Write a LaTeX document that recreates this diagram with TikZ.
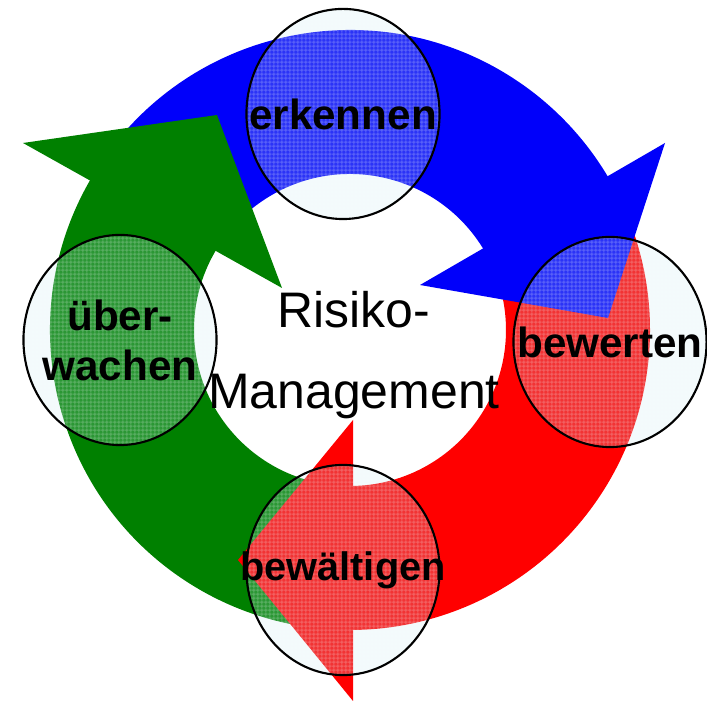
\documentclass[tikz,border=0pt]{standalone}
\usepackage{fontspec}
\setmainfont{Liberation Sans}
\usetikzlibrary{shapes.geometric,patterns}
\definecolor{rmblue}{RGB}{0,0,250}
\definecolor{rmgreen}{RGB}{0,128,0}
\definecolor{rmred}{RGB}{255,0,0}
\definecolor{glasscol}{RGB}{200,235,240}
\pgfdeclarepatternformonly{finegrid}{\pgfpointorigin}{\pgfpoint{1.2pt}{1.2pt}}{\pgfpoint{1.2pt}{1.2pt}}{
  \pgfsetlinewidth{0.35pt}
  \pgfpathmoveto{\pgfpoint{0pt}{0.6pt}}\pgfpathlineto{\pgfpoint{1.2pt}{0.6pt}}
  \pgfpathmoveto{\pgfpoint{0.6pt}{0pt}}\pgfpathlineto{\pgfpoint{0.6pt}{1.2pt}}
  \pgfusepath{stroke}}
\tikzset{
  glass/.style={ellipse,draw,line width=0.6pt,minimum width=1.93cm,minimum height=2.1cm,
    inner sep=0pt,fill=glasscol,fill opacity=0.22,
    preaction={pattern=finegrid,pattern color=white,fill opacity=0.25}},
  phase/.style={font=\fontsize{12}{14.2}\selectfont\bfseries,align=center,inner sep=0pt},
}

\begin{document}
\begin{tikzpicture}[x=0.01cm,y=0.01cm]
        \useasboundingbox (-350,-371) rectangle (357,330);

        % Draw ring segments
        \fill[rmred] (25:300) arc[start angle=25,end angle=-90,radius=300]
            -- (-90:156) arc[start angle=-90,end angle=25,radius=156] -- cycle;
        \fill[rmgreen] (148:300) arc[start angle=148,end angle=268,radius=300]
            -- (268:156) arc[start angle=268,end angle=148,radius=156] -- cycle;
        \fill[rmblue] (145:300) arc[start angle=145,end angle=29,radius=300]
            -- (29:156) arc[start angle=29,end angle=145,radius=156] -- cycle;

        % Draw arrow heads
        \fill[rmblue] (315,187) -- (258,12) -- (70,45) -- cycle;
        \fill[rmgreen] (-327,187) -- (-133,215) -- (-68,42) -- cycle;
        \fill[rmred] (3,-90) -- (-112,-230) -- (3,-371) -- cycle;

        % Define phases by coordinates
        \node[glass] (erk) at (-7,216) {};
        \node[glass] (bew) at (260,-12) {};
        \node[glass] (bwl) at (-7,-240) {};
        \node[glass] (ueb) at (-230,-10) {};

        % Labels
        \node[phase] (erkT) at (erk) {erkennen};
        \node[phase] (bewT) at (bew) {bewerten};
        \node[phase,font=\fontsize{11.3}{14}\selectfont\bfseries] (bwlT) at (bwl) {bewältigen};
        \node[phase] (uebT) at (ueb) {über-\\wachen};
        \node[font=\fontsize{14.2}{23}\selectfont,align=center] (risk) at (4,-25) {Risiko-\\Management};

\end{tikzpicture}
\end{document}
